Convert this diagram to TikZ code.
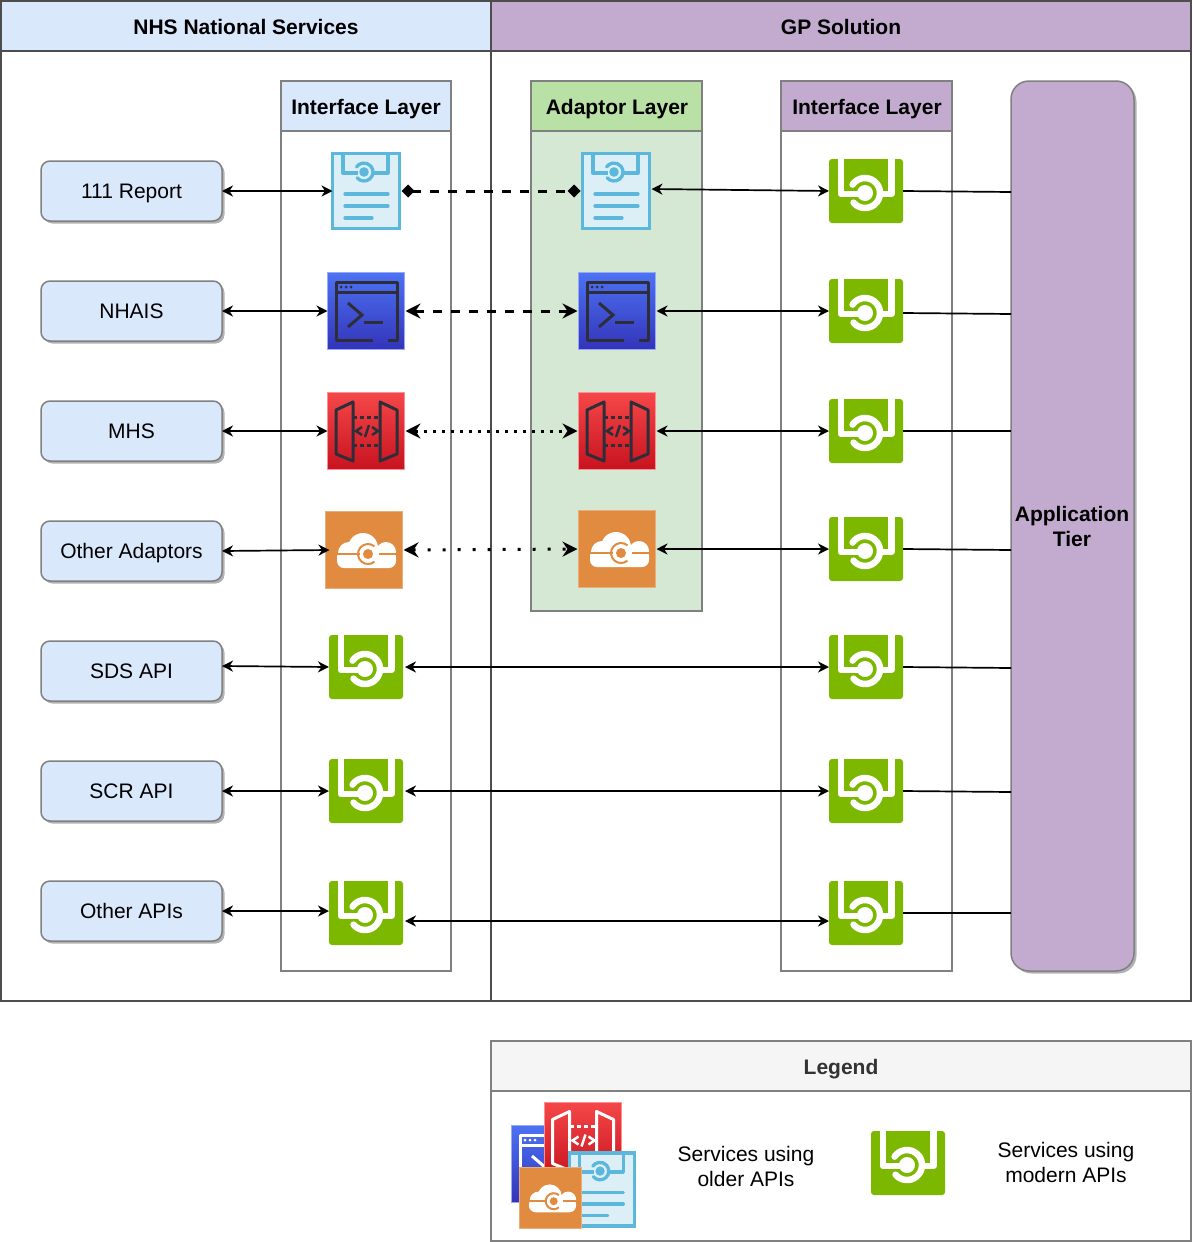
\documentclass[tikz,border=0pt]{standalone}
\usepackage{fontspec}
\setmainfont{Liberation Sans}
\usetikzlibrary{arrows.meta,shadows}
\definecolor{blueFill}{HTML}{DAE8FC}
\definecolor{purpleFill}{HTML}{C3ABD0}
\definecolor{greenHead}{HTML}{B9E0A5}
\definecolor{greenBody}{HTML}{D5E8D4}
\definecolor{frameDark}{HTML}{4D4D4D}
\definecolor{frameMid}{HTML}{808080}
\definecolor{apiGreen}{HTML}{7CB800}
\definecolor{docEdge}{HTML}{5BB8DC}
\definecolor{docFill}{HTML}{DCEFF6}
\definecolor{glyphDark}{HTML}{2E2E3A}
\definecolor{orangeFill}{HTML}{E08B40}
\definecolor{termTop}{HTML}{4D72F3}
\definecolor{termBottom}{HTML}{3334B9}
\definecolor{gateTop}{HTML}{F54749}
\definecolor{gateBottom}{HTML}{C7131F}
\tikzset{
  every node/.style={font=\fontsize{21}{25}\selectfont,align=center,inner sep=0pt,outer sep=0pt},
  boldtext/.style={font=\fontsize{21}{25}\selectfont\bfseries},
  headtext/.style={boldtext,text height=15pt,text depth=0pt},
  panel/.style={draw=frameDark,line width=1.5pt,fill=white},
  lanehead/.style={draw=frameDark,line width=1.5pt},
  layer/.style={draw=frameMid,line width=1.5pt},
  svcbox/.style={draw=frameMid,line width=1.5pt,fill=blueFill,rounded corners=9pt,
    minimum width=181pt,minimum height=60pt,text height=15pt,text depth=0pt,
    general shadow={shadow xshift=2.5pt,shadow yshift=-2.5pt,fill=black,opacity=.3}},
  tier/.style={draw=frameMid,line width=1.5pt,fill=purpleFill,rounded corners=18pt,
    minimum width=123pt,minimum height=890pt,
    general shadow={shadow xshift=2.5pt,shadow yshift=-2.5pt,fill=black,opacity=.3}},
  link/.style={line width=1.7pt,black,{Stealth[length=11pt,width=11pt,inset=3.5pt]}-{Stealth[length=11pt,width=11pt,inset=3.5pt]}},
  plain/.style={line width=1.7pt,black},
  diamondlink/.style={line width=3pt,black,dash pattern=on 9pt off 9pt,{Diamond[length=13pt,width=13pt]}-{Diamond[length=13pt,width=13pt]}},
  dashlink/.style={line width=3pt,black,dash pattern=on 9pt off 9pt,{Stealth[length=15pt,width=15pt,inset=5pt]}-{Stealth[length=15pt,width=15pt,inset=5pt]}},
  dotlink/.style={line width=3pt,black,dash pattern=on 3pt off 6pt,{Stealth[length=15pt,width=15pt,inset=5pt]}-{Stealth[length=15pt,width=15pt,inset=5pt]}},
  sparselink/.style={line width=3pt,black,dash pattern=on 3pt off 12pt,{Stealth[length=15pt,width=15pt,inset=5pt]}-{Stealth[length=15pt,width=15pt,inset=5pt]}},
  apibox/.style={fill=apiGreen,rounded corners=3pt,minimum width=74pt,minimum height=64pt,transform shape},
  docbox/.style={draw=docEdge,line width=3.3pt,fill=docFill,minimum width=67pt,minimum height=75pt,transform shape},
  termbox/.style={draw=termTop!60!white,line width=1pt,top color=termTop,bottom color=termBottom,minimum width=77pt,minimum height=77pt,transform shape},
  gatebox/.style={draw=gateTop!60!white,line width=1pt,top color=gateTop,bottom color=gateBottom,minimum width=77pt,minimum height=77pt,transform shape},
  cloudbox/.style={draw=orangeFill!70!white,line width=1pt,fill=orangeFill,minimum width=77pt,minimum height=77pt,transform shape},
}
% #1 name, #2 x, #3 y, #4 scale
\newcommand\iconApi[4]{\begin{scope}[shift={(#2,#3)},scale=#4]
  \node[apibox] (#1) at (0,0) {};
  \draw[white,line width=6.5pt,line join=round,line cap=butt] (-25,-32) -- (-25,3) -- (-6,3);
  \draw[white,line width=6.5pt,line join=round,line cap=butt] (25.5,-32) -- (25.5,3) -- (12,3);
  \draw[white,line width=6.5pt,line cap=round] (-1,2) ++(140:15) arc[start angle=140,end angle=-146,radius=15];
  \fill[white] (-1,2) circle (8);
\end{scope}}
\newcommand\iconDoc[4]{\begin{scope}[shift={(#2,#3)},scale=#4]
  \node[docbox] (#1) at (0,0) {};
  \draw[docEdge,line width=3.3pt,line join=round] (-23,-38) -- (-23,-18) -- (-8,-18);
  \draw[docEdge,line width=3.3pt,line join=round] (22,-38) -- (22,-18) -- (6,-18);
  \draw[docEdge,line width=3.3pt,line cap=round] (-2,-19) ++(140:9) arc[start angle=140,end angle=-146,radius=9];
  \fill[docEdge] (-2,-19) circle (4.8);
  \draw[docEdge,line width=3.2pt,line cap=round] (-21,3) -- (22,3) (-21,15) -- (22,15) (-21,27) -- (6,27);
\end{scope}}
% #5 glyph colour
\newcommand\iconTerm[5]{\begin{scope}[shift={(#2,#3)},scale=#4]
  \node[termbox] (#1) at (0,0) {};
  \draw[#5,line width=3pt,line join=round] (7,29) -- (-30,29) -- (-30,-29) -- (31,-29) -- (31,29) -- (22,29);
  \draw[#5,line width=3pt] (-30,-19) -- (31,-19);
  \fill[#5] (-25,-24) circle (1.5) (-20,-24) circle (1.5) (-15,-24) circle (1.5);
  \draw[#5,line width=3pt,line join=miter] (-18,-8) -- (-4,4) -- (-18,16);
  \draw[#5,line width=3pt] (-2,11.5) -- (17,11.5);
\end{scope}}
\newcommand\iconGate[5]{\begin{scope}[shift={(#2,#3)},scale=#4]
  \node[gatebox] (#1) at (0,0) {};
  \draw[#5,line width=3pt,line join=round] (-30,-21) -- (-13,-29) -- (-13,30) -- (-30,23) -- cycle;
  \draw[#5,line width=3pt,line join=round] (14,-29) -- (31,-21) -- (31,23) -- (14,30) -- cycle;
  \draw[#5,line width=3pt,dash pattern=on 4pt off 3pt] (-13,-14) -- (14,-14) (-13,14) -- (14,14);
  \draw[#5,line width=2.5pt] (-4,-4) -- (-10,0) -- (-4,4);
  \draw[#5,line width=2.5pt] (6,-4) -- (12,0) -- (6,4);
  \draw[#5,line width=2.5pt] (3,-6) -- (-1,6);
\end{scope}}
\newcommand\iconCloud[4]{\begin{scope}[shift={(#2,#3)},scale=#4]
  \node[cloudbox] (#1) at (0,0) {};
  \fill[white] (-1,-2) circle (15) (-15,3) circle (11) (22,2) circle (10);
  \fill[white,rounded corners=7pt] (-27,0) rectangle (32,18);
  \draw[orangeFill,line width=1.5pt] (-27,4) -- (-4,4) (15,4) -- (32,4);
  \draw[orangeFill,line width=2pt] (4,4) ++(-50:10) arc[start angle=-50,end angle=-310,radius=10];
  \fill[orangeFill] (4,4) circle (5);
\end{scope}}
\begin{document}
\begin{tikzpicture}[x=1pt,y=-1pt]
\useasboundingbox (0,0) rectangle (1192,1242);
\fill[white] (0,0) rectangle (1192,1242);
% lanes
\draw[panel] (1,1) rectangle (491,1001);
\draw[panel] (491,1) rectangle (1191,1001);
\draw[lanehead,fill=blueFill] (1,1) rectangle (491,51);
\draw[lanehead,fill=purpleFill] (491,1) rectangle (1191,51);
\node[headtext] (nhsTitle) at (246,27) {NHS National Services};
\node[headtext] (gpTitle) at (841,27) {GP Solution};
% layers
\draw[layer] (281,81) rectangle (451,971);
\draw[layer,fill=blueFill] (281,81) rectangle (451,131);
\node[headtext] (ifaceLeftTitle) at (366,107) {Interface Layer};
\draw[layer,fill=greenBody] (531,81) rectangle (702,611);
\draw[layer,fill=greenHead] (531,81) rectangle (702,131);
\node[headtext] (adaptorTitle) at (617,107) {Adaptor Layer};
\draw[layer] (781,81) rectangle (952,971);
\draw[layer,fill=purpleFill] (781,81) rectangle (952,131);
\node[headtext] (ifaceRightTitle) at (867,107) {Interface Layer};
% application tier
\node[tier] (tier) at (1072.5,526) {};
\node[boldtext] (tierText) at (1072,526.5) {Application\\Tier};
% services
\node[svcbox] (s1) at (131.5,191) {111 Report};
\node[svcbox] (s2) at (131.5,311) {NHAIS};
\node[svcbox] (s3) at (131.5,431) {MHS};
\node[svcbox] (s4) at (131.5,551) {Other Adaptors};
\node[svcbox] (s5) at (131.5,671) {SDS API};
\node[svcbox] (s6) at (131.5,791) {SCR API};
\node[svcbox] (s7) at (131.5,911) {Other APIs};
% left interface icons
\iconDoc{la}{366}{191}{1}
\iconTerm{lb}{366}{311}{1}{glyphDark}
\iconGate{lc}{366}{431}{1}{glyphDark}
\iconCloud{ld}{364}{550}{1}
\iconApi{le}{366}{667}{1}
\iconApi{lf}{366}{791}{1}
\iconApi{lg}{366}{913}{1}
% adaptor icons
\iconDoc{aa}{616}{191}{1}
\iconTerm{ab}{617}{311}{1}{glyphDark}
\iconGate{ac}{617}{431}{1}{glyphDark}
\iconCloud{ad}{617}{549}{1}
% right interface icons
\iconApi{ra}{866}{191}{1}
\iconApi{rb}{866}{311}{1}
\iconApi{rc}{866}{431}{1}
\iconApi{rd}{866}{549}{1}
\iconApi{re}{866}{667}{1}
\iconApi{rf}{866}{791}{1}
\iconApi{rg}{866}{913}{1}
% connectors: services to left interface
\draw[link] (s1.east) -- (la.west);
\draw[link] (s2.east) -- (lb.west);
\draw[link] (s3.east) -- (lc.west);
\draw[link] (s4.east) -- ([xshift=4pt]ld.west);
\draw[link] ([yshift=5pt]s5.east) -- (le.west);
\draw[link] (s6.east) -- (lf.west);
\draw[link] (s7.east) -- ([yshift=2pt]lg.west);
% left interface to adaptor
\draw[diamondlink] ([xshift=2pt]la.east) -- ([xshift=-2pt]aa.west);
\draw[dashlink] ([xshift=1pt]lb.east) -- ([xshift=-1pt]ab.west);
\draw[dotlink] ([xshift=1pt]lc.east) -- ([xshift=-1pt]ac.west);
\draw[sparselink] ([xshift=1pt]ld.east) -- ([xshift=-1pt]ad.west);
% adaptor / left to right interface
\draw[link] ([shift={(2pt,2pt)}]aa.east) -- (ra.west);
\draw[link] ([xshift=1pt]ab.east) -- (rb.west);
\draw[link] ([xshift=1pt]ac.east) -- (rc.west);
\draw[link] ([xshift=1pt]ad.east) -- (rd.west);
\draw[link] ([xshift=2pt]le.east) -- (re.west);
\draw[link] ([xshift=2pt]lf.east) -- (rf.west);
\draw[link] ([shift={(2pt,-8pt)}]lg.east) -- ([yshift=-8pt]rg.west);
% right interface to tier
\coordinate (ta) at (1011,192);
\coordinate (tb) at (1011,314);
\coordinate (tc) at (1011,431);
\coordinate (td) at (1011,550);
\coordinate (te) at (1011,668);
\coordinate (tf) at (1011,792);
\coordinate (tg) at (1011,913);
\draw[plain] (ra.east) -- (ta);
\draw[plain] ([yshift=-2pt]rb.east) -- (tb);
\draw[plain] (rc.east) -- (tc);
\draw[plain] (rd.east) -- (td);
\draw[plain] (re.east) -- (te);
\draw[plain] (rf.east) -- (tf);
\draw[plain] (rg.east) -- (tg);
% legend
\draw[lanehead,draw=frameMid,fill=white] (491,1041) rectangle (1191,1241);
\draw[lanehead,draw=frameMid,fill=black!4] (491,1041) rectangle (1191,1091);
\node[headtext,text=black!80] (legendTitle) at (841,1067) {Legend};
\iconTerm{legB}{550}{1164}{1}{white}
\iconGate{legR}{582.5}{1140.5}{1}{white}
\iconDoc{legD}{602}{1189.5}{.97}
\iconCloud{legO}{550.5}{1198}{.8}
\node (legOld) at (746,1166) {Services using\\older APIs};
\iconApi{legA}{908}{1163}{1}
\node (legNew) at (1066,1162) {Services using\\modern APIs};
\end{tikzpicture}
\end{document}
